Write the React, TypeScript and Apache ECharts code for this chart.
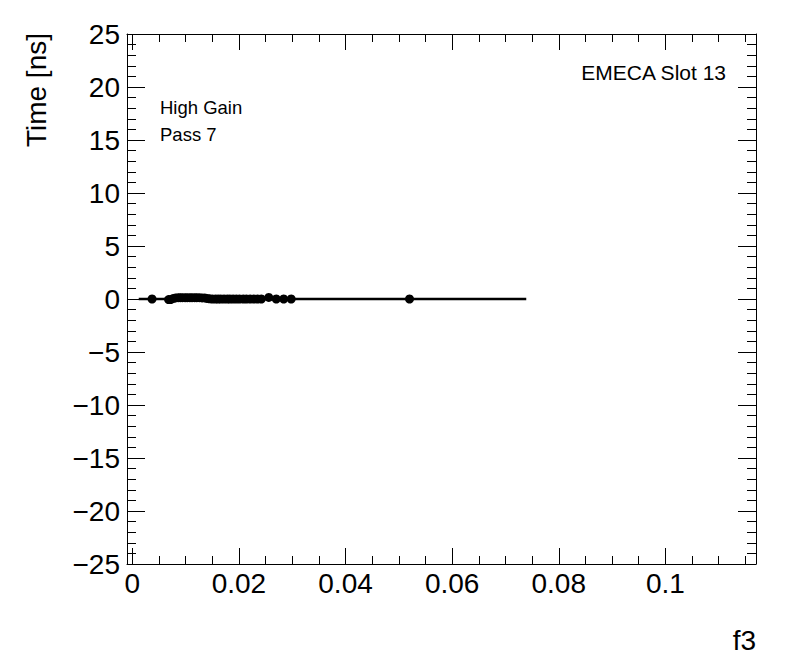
import React, { useEffect, useRef } from "react";
import * as echarts from "echarts";

// Data points (f3 vs Time [ns])
const pointX = [
  0.0037, 0.0068, 0.0072, 0.0077, 0.0081, 0.0086, 0.009, 0.0094, 0.0099, 0.0103,
  0.0108, 0.0112, 0.0117, 0.0121, 0.0126, 0.0131, 0.0136, 0.014, 0.0145, 0.015,
  0.0156, 0.0161, 0.0166, 0.0172, 0.0178, 0.0183, 0.0189, 0.0195, 0.0201, 0.0208,
  0.0214, 0.0221, 0.0228, 0.0235, 0.0242, 0.0256, 0.027, 0.0284, 0.0298, 0.052,
];
const pointY = [
  0.0, -0.05, -0.05, 0.05, 0.1, 0.12, 0.12, 0.12, 0.12, 0.12,
  0.12, 0.12, 0.12, 0.12, 0.12, 0.1, 0.1, 0.05, 0.02, 0.0,
  0.0, 0.0, 0.0, 0.0, 0.0, 0.0, 0.0, 0.0, 0.0, 0.0,
  0.0, 0.0, 0.0, 0.0, 0.0, 0.15, 0.0, 0.0, 0.0, 0.0,
];
// Fit line (constant)
const fitX = [0.0012, 0.0739];
const fitY = [0.0, 0.0];

// Axis ticks
const xMajorTicks = [0, 0.02, 0.04, 0.06, 0.08, 0.1];
const xMinorTicks = [
  0.005, 0.01, 0.015, 0.025, 0.03, 0.035, 0.045, 0.05, 0.055, 0.065, 0.07, 0.075,
  0.085, 0.09, 0.095, 0.105, 0.11, 0.115,
];
const xRange = [-0.001, 0.117];
const yRange = [-25, 25];

const labels = {
  yTitle: "Time [ns]",
  xTitle: "f3",
  slot: "EMECA Slot 13",
  gain: "High Gain",
  pass: "Pass 7",
};

const FONT = "Liberation Sans, Arial, Helvetica, sans-serif";

function fmtX(v: number) {
  if (Math.abs(v) < 1e-12) return "0";
  return String(+v.toFixed(3));
}
function fmtY(v: number) {
  if (v < 0) return "\u2212" + Math.abs(v);
  return String(v);
}

export default function App() {
  const ref = useRef<HTMLDivElement>(null);
  useEffect(() => {
    if (!ref.current) return;
    const chart = echarts.init(ref.current, null, { renderer: "svg" });
    const black = "#000";
    const baseX = {
      type: "value",
      min: xRange[0],
      max: xRange[1],
      splitLine: { show: false },
      axisLine: { show: false, onZero: false, lineStyle: { color: black, width: 1 } },
      axisLabel: { show: false },
      axisTick: { show: true, inside: true, lineStyle: { color: black, width: 1 } },
    };
    const baseY = {
      type: "value",
      min: yRange[0],
      max: yRange[1],
      interval: 5,
      splitLine: { show: false },
      minorSplitLine: { show: false },
      axisLine: { show: true, onZero: false, lineStyle: { color: black, width: 1 } },
      axisTick: { show: true, inside: true, length: 18, lineStyle: { color: black, width: 1 } },
      minorTick: { show: true, splitNumber: 5, length: 9, lineStyle: { color: black, width: 1 } },
    };
    const option: any = {
      animation: false,
      backgroundColor: "#fff",
      grid: { left: 127, right: 40, top: 34, bottom: 108, containLabel: false },
      xAxis: [
        {
          ...baseX,
          position: "bottom",
          axisLine: { show: true, onZero: false, lineStyle: { color: black, width: 1 } },
          axisLabel: {
            show: true,
            customValues: xMajorTicks,
            formatter: (v: number) => fmtX(v),
            fontSize: 28,
            color: black,
            fontFamily: FONT,
            margin: 5,
          },
          axisTick: { ...baseX.axisTick, customValues: xMajorTicks, length: 16 },
        },
        {
          ...baseX,
          position: "bottom",
          axisTick: { ...baseX.axisTick, customValues: xMinorTicks, length: 8 },
        },
        {
          ...baseX,
          position: "top",
          axisLine: { show: true, onZero: false, lineStyle: { color: black, width: 1 } },
          axisTick: { ...baseX.axisTick, customValues: xMajorTicks, length: 16 },
        },
        {
          ...baseX,
          position: "top",
          axisTick: { ...baseX.axisTick, customValues: xMinorTicks, length: 8 },
        },
      ],
      yAxis: [
        {
          ...baseY,
          position: "left",
          axisLabel: {
            show: true,
            formatter: (v: number) => fmtY(v),
            fontSize: 28,
            color: black,
            fontFamily: FONT,
            margin: 7,
          },
        },
        {
          ...baseY,
          position: "right",
          axisLabel: { show: false },
        },
      ],
      graphic: [
        {
          type: "text",
          x: 36,
          y: 33,
          rotation: Math.PI / 2,
          style: {
            text: labels.yTitle,
            fontSize: 28,
            fontFamily: FONT,
            fill: black,
            textAlign: "right",
            textVerticalAlign: "middle",
          },
        },
        {
          type: "text",
          x: 756,
          y: 640,
          style: {
            text: labels.xTitle,
            fontSize: 28,
            fontFamily: FONT,
            fill: black,
            textAlign: "right",
            textVerticalAlign: "middle",
          },
        },
        {
          type: "text",
          x: 726,
          y: 72.5,
          style: {
            text: labels.slot,
            fontSize: 21,
            fontFamily: FONT,
            fill: black,
            textAlign: "right",
            textVerticalAlign: "middle",
          },
        },
        {
          type: "text",
          x: 160,
          y: 107.5,
          style: {
            text: labels.gain,
            fontSize: 18.5,
            fontFamily: FONT,
            fill: black,
            textAlign: "left",
            textVerticalAlign: "middle",
          },
        },
        {
          type: "text",
          x: 160,
          y: 134.2,
          style: {
            text: labels.pass,
            fontSize: 18.5,
            fontFamily: FONT,
            fill: black,
            textAlign: "left",
            textVerticalAlign: "middle",
          },
        },
      ],
      series: [
        {
          type: "line",
          xAxisIndex: 0,
          yAxisIndex: 0,
          data: fitX.map((x, i) => [x, fitY[i]]),
          showSymbol: false,
          symbol: "none",
          lineStyle: { color: black, width: 2.5 },
          silent: true,
        },
        {
          type: "scatter",
          xAxisIndex: 0,
          yAxisIndex: 0,
          data: pointX.map((x, i) => [x, pointY[i]]),
          symbol: "circle",
          symbolSize: 9,
          itemStyle: { color: black, opacity: 1 },
          silent: true,
        },
      ],
    };
    chart.setOption(option);
    return () => chart.dispose();
  }, []);
  return (
    <div
      ref={ref}
      style={{ position: "fixed", left: 0, top: 0, width: 796, height: 672, background: "#fff" }}
    />
  );
}
